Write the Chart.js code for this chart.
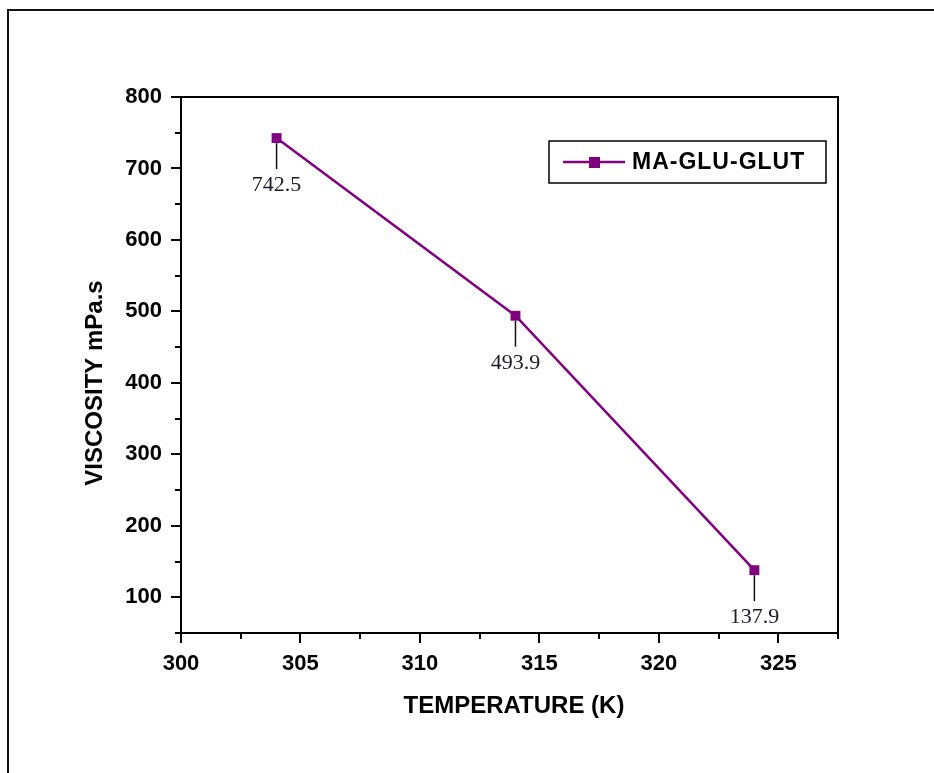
<!DOCTYPE html>
<html>
<head>
<meta charset="utf-8">
<script src="https://cdn.jsdelivr.net/npm/chart.js@4.4.1/dist/chart.umd.min.js"></script>
<style>
  body { margin: 0; background: #fff; }
  #wrap { width: 934px; height: 773px; }
</style>
</head>
<body>
<div id="wrap"><canvas id="viscChart" width="934" height="773"></canvas></div>
<script>
// temperature (K) vs viscosity (mPa.s)
const temperature = [304, 314, 324]
const viscosity = [742.5, 493.9, 137.9]
const x_ticks = [300, 305, 310, 315, 320, 325]
const y_ticks = [100, 200, 300, 400, 500, 600, 700, 800]
const x_minor = [302.5, 307.5, 312.5, 317.5, 322.5, 327.5]
const y_minor = [50, 150, 250, 350, 450, 550, 650, 750]
const series_name = 'MA-GLU-GLUT'

const purple = '#800080'
const title_font = 'bold 24px "Liberation Sans", Arial, sans-serif'

const frame_plugin = {
    id: 'frame_plugin',
    beforeDraw(chart) {
        const ctx = chart.ctx
        ctx.save()
        ctx.fillStyle = '#fff'
        ctx.fillRect(0, 0, chart.width, chart.height)
        // outer border (top + left)
        ctx.strokeStyle = '#111'
        ctx.lineWidth = 2
        ctx.beginPath()
        ctx.moveTo(8, chart.height)
        ctx.lineTo(8, 10)
        ctx.lineTo(chart.width, 10)
        ctx.stroke()
        ctx.restore()
    },
    afterDraw(chart) {
        const ctx = chart.ctx
        const a = chart.chartArea
        const xs = chart.scales.x
        const ys = chart.scales.y
        ctx.save()
        ctx.strokeStyle = '#000'
        ctx.lineWidth = 2
        // top and right edges of the plot box
        ctx.beginPath()
        ctx.moveTo(a.left, a.top)
        ctx.lineTo(a.right, a.top)
        ctx.lineTo(a.right, a.bottom)
        ctx.stroke()

        // minor ticks
        ctx.beginPath()
        x_minor.forEach(v => {
            const px = Math.round(xs.getPixelForValue(v))
            ctx.moveTo(px, a.bottom)
            ctx.lineTo(px, a.bottom + 6)
        })
        y_minor.forEach(v => {
            const py = Math.round(ys.getPixelForValue(v))
            ctx.moveTo(a.left, py)
            ctx.lineTo(a.left - 6, py)
        })
        ctx.stroke()

        // axis titles
        ctx.fillStyle = '#000'
        ctx.font = title_font
        ctx.textAlign = 'center'
        ctx.textBaseline = 'middle'
        ctx.fillText('TEMPERATURE (K)', 514, 706)
        ctx.save()
        ctx.translate(95, 383)
        ctx.rotate(-Math.PI / 2)
        ctx.fillText('VISCOSITY mPa.s', 0, 0)
        ctx.restore()

        // legend box
        ctx.lineWidth = 1.5
        ctx.strokeStyle = '#000'
        ctx.strokeRect(549, 141, 277, 42)
        ctx.strokeStyle = purple
        ctx.lineWidth = 2.5
        ctx.beginPath()
        ctx.moveTo(563, 162)
        ctx.lineTo(625, 162)
        ctx.stroke()
        ctx.fillStyle = purple
        ctx.fillRect(589, 157, 11, 11)
        ctx.fillStyle = '#000'
        ctx.textAlign = 'left'
        ctx.font = 'bold 23px "Liberation Sans", Arial, sans-serif'
        ctx.letterSpacing = '1px'
        ctx.fillText(series_name, 632, 163)
        ctx.letterSpacing = '0px'

        // value labels under each point
        const meta = chart.getDatasetMeta(0)
        ctx.font = '22px "Liberation Serif", "Times New Roman", serif'
        ctx.textAlign = 'center'
        ctx.textBaseline = 'alphabetic'
        meta.data.forEach((pt, i) => {
            ctx.strokeStyle = '#111'
            ctx.lineWidth = 1.5
            ctx.beginPath()
            ctx.moveTo(pt.x, pt.y + 5)
            ctx.lineTo(pt.x, pt.y + 31)
            ctx.stroke()
            ctx.fillStyle = '#1a1a2a'
            ctx.fillText(viscosity[i].toFixed(1), pt.x, pt.y + 53)
        })
        ctx.restore()
    }
}

const chart_el = document.getElementById('viscChart')
const visc_chart = new Chart(chart_el, {
    type: 'scatter',
    data: {
        datasets: [{
            label: series_name,
            data: temperature.map((t, i) => ({x: t, y: viscosity[i]})),
            showLine: true,
            borderColor: purple,
            backgroundColor: purple,
            borderWidth: 2.5,
            pointStyle: 'rect',
            pointRadius: 7,
            pointBorderWidth: 0,
        }]
    },
    options: {
        responsive: false,
        animation: false,
        layout: {
            padding: {left: 0, top: 97, right: 96, bottom: 0}
        },
        scales: {
            x: {
                type: 'linear',
                min: 300,
                max: 327.5,
                afterBuildTicks: s => { s.ticks = x_ticks.map(v => ({value: v})) },
                afterFit: s => { s.height = 140 },
                grid: {
                    drawOnChartArea: false,
                    color: '#000',
                    lineWidth: 2,
                    tickLength: 10,
                },
                border: {color: '#000', width: 2},
                ticks: {
                    color: '#000',
                    padding: 8,
                    font: {family: '"Liberation Sans", Arial, sans-serif', size: 22, weight: 'bold'},
                    maxRotation: 0,
                },
            },
            y: {
                min: 50,
                max: 800,
                afterBuildTicks: s => { s.ticks = y_ticks.map(v => ({value: v})) },
                afterFit: s => { s.width = 181 },
                grid: {
                    drawOnChartArea: false,
                    color: '#000',
                    lineWidth: 2,
                    tickLength: 10,
                },
                border: {color: '#000', width: 2},
                ticks: {
                    color: '#000',
                    padding: 9,
                    font: {family: '"Liberation Sans", Arial, sans-serif', size: 22, weight: 'bold'},
                },
            },
        },
        plugins: {
            legend: {display: false},
            tooltip: {enabled: false},
        }
    },
    plugins: [frame_plugin]
})
</script>
</body>
</html>
